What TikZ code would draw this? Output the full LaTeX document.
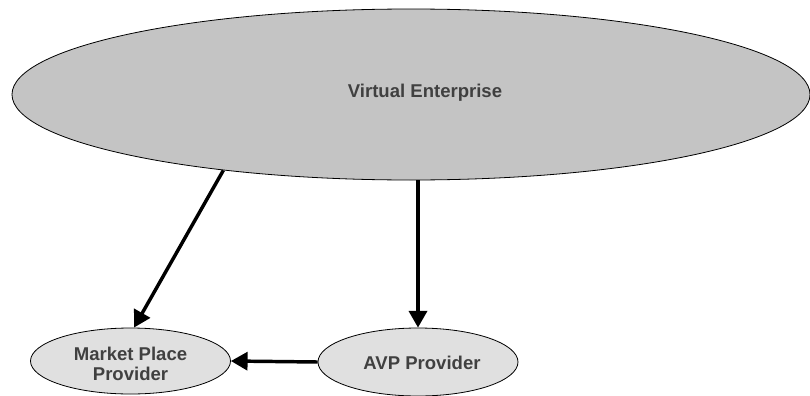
\documentclass[tikz,border=0pt]{standalone}
\usepackage{fontspec}
\setmainfont{Liberation Sans}
\usetikzlibrary{shapes.geometric,arrows.meta}
\definecolor{bigfill}{RGB}{196,196,196}
\definecolor{smallfill}{RGB}{224,224,224}
\definecolor{txtgray}{RGB}{64,64,64}
\tikzset{
  ell/.style={ellipse, draw=black, line width=0.6pt, inner sep=0pt},
  lbl/.style={font=\fontsize{13.9pt}{15.4pt}\selectfont\bfseries, text=txtgray, align=center, inner sep=0pt},
  conn/.style={line width=2.6pt, -{Triangle[length=12.5pt,width=13.5pt]}}
}
\begin{document}
\begin{tikzpicture}[x=0.75pt,y=-0.75pt]
\useasboundingbox (0,0) rectangle (810,396);
\node[ell, fill=bigfill, minimum width=598.5pt, minimum height=128.25pt] (ve) at (411,94.5) {};
\node[lbl] (vet) at (425,93) {Virtual Enterprise};
\node[ell, fill=smallfill, minimum width=150pt, minimum height=49.5pt] (mp) at (130.5,361) {};
\node[lbl] (mpt) at (130.5,364) {Market Place\\Provider};
\node[ell, fill=smallfill, minimum width=150pt, minimum height=51pt] (avp) at (418,362) {};
\node[lbl] (avpt) at (422,363) {AVP Provider};
\draw[conn] (ve.202.4) -- (mp.84);
\draw[conn] (ve.south -| avp.north) -- (avp.north);
\draw[conn] (avp.west) -- (mp.east);
\end{tikzpicture}
\end{document}
